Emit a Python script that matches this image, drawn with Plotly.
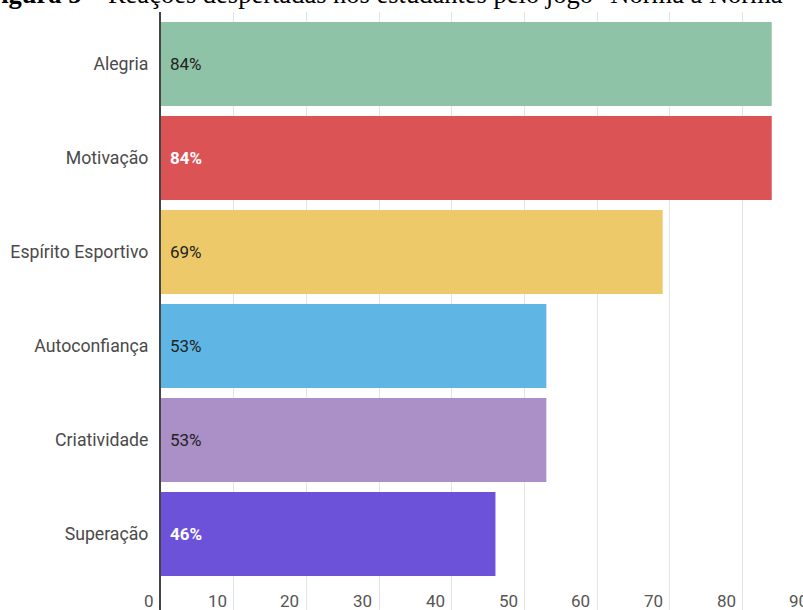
import plotly.graph_objects as go

categories = ["Alegria", "Motivação", "Espírito Esportivo", "Autoconfiança", "Criatividade", "Superação"]
values = [84, 84, 69, 53, 53, 46]
colors = ["#8fc3a7", "#dc5356", "#eec96a", "#5fb6e5", "#ab8fc7", "#6b52d9"]
label_colors = ["#222222", "#ffffff", "#222222", "#222222", "#222222", "#ffffff"]
label_weights = [400, 700, 400, 400, 400, 700]
x_ticks = [0, 10, 20, 30, 40, 50, 60, 70, 80, 90]
title_bold = "Figura 5"
title_rest = " – Reações despertadas nos estudantes pelo jogo \"Norma a Norma\""

W, H = 803, 610
ML, MT = 161, 12
XMAX = 88.3
YR = [5.809, -0.553]

pos = list(range(len(categories)))

fig = go.Figure()
fig.add_trace(go.Bar(
    x=values, y=pos, orientation="h", width=0.894,
    marker=dict(color=colors, line=dict(width=0)),
    hoverinfo="skip", showlegend=False,
))

ann = []
for i, v in enumerate(values):
    ann.append(dict(
        x=0, y=i, xref="x", yref="y", text=f"{v}%", showarrow=False,
        xanchor="left", yanchor="middle", xshift=7,
        font=dict(family="Roboto", size=17, color=label_colors[i], weight=label_weights[i]),
    ))

for t in x_ticks:
    frac = t / XMAX
    ann.append(dict(
        x=frac, y=0, xref="paper", yref="paper", text=str(t), showarrow=False,
        xanchor="right", yanchor="middle", xshift=-5, yshift=9,
        font=dict(family="Roboto", size=17, color="#555555"),
    ))

ann.append(dict(
    x=0, y=1, xref="paper", yref="paper",
    text=f"<b>{title_bold}</b>{title_rest}", showarrow=False,
    xanchor="left", yanchor="bottom", xshift=-ML - 17, yshift=1,
    font=dict(family="Liberation Serif", size=26.5, color="#000000"),
))

fig.update_layout(
    width=W, height=H,
    margin=dict(l=ML, r=0, t=MT, b=0, pad=0),
    paper_bgcolor="white", plot_bgcolor="white",
    bargap=0.1,
    annotations=ann,
    xaxis=dict(
        range=[0, XMAX], tickvals=x_ticks, showticklabels=False,
        showgrid=True, gridcolor="#e3e3e3", gridwidth=1,
        zeroline=False, showline=False, ticks="",
        fixedrange=True,
    ),
    yaxis=dict(
        range=YR, tickvals=pos, ticktext=categories,
        showgrid=False, zeroline=False,
        showline=True, linecolor="#444444", linewidth=2,
        ticks="outside", ticklen=7, tickcolor="rgba(0,0,0,0)",
        tickfont=dict(family="Roboto", size=17.7, color="#4a4a4a"),
        fixedrange=True,
    ),
)

fig.write_html("out.html")
